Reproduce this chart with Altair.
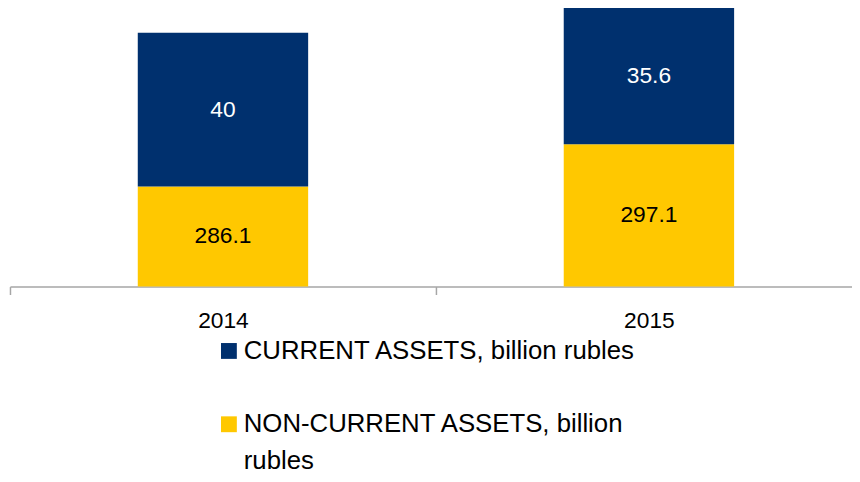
import altair as alt
import pandas as pd

years = ["2014", "2015"]
non_current = [286.1, 297.1]
current = [40, 35.6]
series_names = ["NON-CURRENT ASSETS, billion rubles", "CURRENT ASSETS, billion rubles"]
series_colors = ["#FFC800", "#00306E"]

Y_MIN, Y_MAX = 260, 335
FONT = "Liberation Sans"

rows = []
for i, yr in enumerate(years):
    base = 0.0
    for k, vals in enumerate([non_current, current]):
        v = vals[i]
        top = base + v
        rows.append({"year": yr, "series": series_names[k], "value": v,
                     "y0": base, "y1": top,
                     "mid": (max(base, Y_MIN) + top) / 2,
                     "label": f"{v:g}", "k": k})
        base = top
df = pd.DataFrame(rows)

x_enc = alt.X(
    "year:N",
    scale=alt.Scale(range=[0, 860], paddingInner=0, paddingOuter=0),
    axis=alt.Axis(title=None, labelAngle=0, tickBand="extent",
                  domainColor="#A6A6A6", tickColor="#A6A6A6",
                  domainWidth=1.5, tickWidth=1.5, tickSize=8,
                  labelFont=FONT, labelFontSize=23, labelColor="#000000",
                  labelPadding=15),
)
y_scale = alt.Scale(domain=[Y_MIN, Y_MAX], range=[279, -11.625],
                    clamp=True, nice=False, zero=False)

legend_common = dict(title=None, orient="none", legendX=208,
                     symbolType="square", symbolSize=256, symbolStrokeWidth=0,
                     symbolOpacity=1, labelFont=FONT, labelFontSize=26,
                     labelColor="#000000", labelLimit=700, labelOffset=2,
                     padding=0)

legends = [
    alt.Legend(legendY=405,
               labelExpr="['NON-CURRENT ASSETS, billion', 'rubles']",
               **legend_common),
    alt.Legend(legendY=331, **legend_common),
]


def bar_layer(k):
    return alt.Chart(df).transform_filter(alt.datum.k == k).mark_bar(
        width=alt.RelativeBandSize(0.4)
    ).encode(
        x=x_enc,
        y=alt.Y("y0:Q", scale=y_scale, axis=None),
        y2="y1:Q",
        color=alt.Color("series:N",
                        scale=alt.Scale(domain=[series_names[k]], range=[series_colors[k]]),
                        legend=legends[k]),
    )


text = alt.Chart(df).mark_text(font=FONT, fontSize=23, baseline="middle").encode(
    x=x_enc,
    y=alt.Y("mid:Q", scale=y_scale, axis=None),
    text="label:N",
    color=alt.condition(alt.datum.k == 1, alt.value("#FFFFFF"), alt.value("#000000")),
)

chart = alt.layer(bar_layer(0), bar_layer(1), text).resolve_scale(
    color="independent"
).properties(
    width=850, height=279,
    padding={"left": 2, "top": 0, "right": 0, "bottom": 187},
    autosize=alt.AutoSizeParams(type="none"),
).configure(
    style={"guide-label": {"lineHeight": 37}},
    view=alt.ViewConfig(stroke=None),
)

chart.save("out.html", embed_options={"renderer": "svg", "actions": False})
